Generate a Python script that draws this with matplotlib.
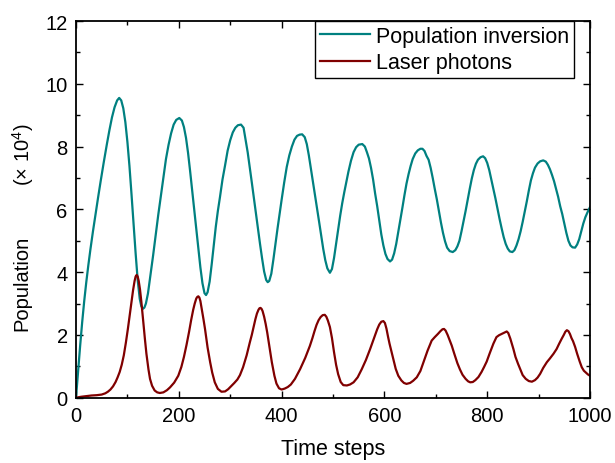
import matplotlib
matplotlib.use("Agg")
import matplotlib.pyplot as plt
from matplotlib.ticker import MultipleLocator

plt.rcParams['font.family'] = ['Liberation Sans', 'DejaVu Sans']
plt.rcParams['mathtext.fontset'] = 'custom'
plt.rcParams['mathtext.rm'] = 'Liberation Sans'
plt.rcParams['mathtext.it'] = 'Liberation Sans'

# Population inversion (x 10^4)
t_inv = [0, 4, 8, 12, 16, 20, 24, 28, 33, 38, 43, 48, 54, 60, 65, 70, 75, 80, 84, 88, 92, 96,
         100, 104, 108, 112, 116, 120, 124, 127, 130, 133, 136, 140, 145, 150, 155, 160, 165,
         170, 175, 180, 185, 190, 195, 201, 206, 210, 214, 218, 222, 226, 230, 234, 238, 242,
         246, 250, 253, 256, 260, 264, 268, 272, 276, 280, 285, 290, 295, 300, 305, 310, 315,
         321, 326, 330, 334, 338, 342, 346, 350, 354, 358, 362, 366, 370, 373, 376, 380, 384,
         388, 392, 396, 400, 405, 410, 415, 420, 425, 430, 435, 440, 445, 449, 453, 457, 461,
         465, 469, 473, 477, 481, 485, 489, 494, 498, 502, 506, 510, 514, 518, 522, 526, 530,
         535, 540, 545, 550, 557, 562, 566, 570, 574, 578, 582, 586, 590, 594, 598, 602, 606,
         611, 615, 619, 623, 627, 631, 635, 639, 643, 647, 651, 655, 660, 665, 670, 674, 678,
         682, 686, 690, 694, 698, 702, 706, 710, 714, 718, 722, 727, 733, 738, 742, 746, 750,
         754, 758, 762, 766, 770, 774, 778, 782, 787, 792, 796, 800, 804, 808, 812, 816, 820,
         824, 828, 832, 836, 840, 844, 849, 853, 857, 861, 865, 869, 873, 877, 881, 885, 889,
         893, 898, 903, 909, 914, 918, 922, 926, 930, 934, 938, 942, 946, 950, 954, 958, 962,
         966, 971, 975, 979, 983, 987, 991, 995, 1000]
inversion = [0, 0.84, 1.64, 2.4, 3.08, 3.68, 4.22, 4.72, 5.3, 5.85, 6.38, 6.9, 7.5, 8.07, 8.52, 8.93,
             9.25, 9.47, 9.55, 9.47, 9.22, 8.78, 8.15, 7.38, 6.48, 5.52, 4.6, 3.75, 3.15, 2.92, 2.83,
             2.87, 3.0, 3.32, 3.92, 4.53, 5.18, 5.82, 6.42, 7.0, 7.6, 8.05, 8.42, 8.7, 8.85, 8.91,
             8.83, 8.62, 8.28, 7.8, 7.22, 6.6, 5.98, 5.38, 4.76, 4.15, 3.65, 3.33, 3.27, 3.36, 3.7,
             4.25, 4.85, 5.45, 5.95, 6.38, 6.95, 7.4, 7.87, 8.2, 8.45, 8.6, 8.68, 8.70, 8.6, 8.2,
             7.82, 7.35, 6.86, 6.37, 5.88, 5.4, 4.9, 4.44, 4.02, 3.75, 3.68, 3.72, 3.95, 4.4, 4.9,
             5.38, 5.85, 6.3, 6.85, 7.35, 7.72, 8.0, 8.22, 8.34, 8.38, 8.39, 8.3, 8.08, 7.72, 7.3,
             6.88, 6.45, 6.03, 5.6, 5.17, 4.74, 4.38, 4.12, 3.98, 4.1, 4.45, 4.9, 5.35, 5.8, 6.2,
             6.55, 6.88, 7.2, 7.55, 7.82, 7.98, 8.06, 8.08, 8.0, 7.82, 7.62, 7.32, 6.95, 6.5, 6.1,
             5.65, 5.2, 4.85, 4.58, 4.42, 4.34, 4.4, 4.6, 4.9, 5.28, 5.68, 6.05, 6.45, 6.82, 7.12,
             7.38, 7.6, 7.78, 7.88, 7.93, 7.93, 7.86, 7.7, 7.58, 7.32, 7.0, 6.65, 6.32, 5.95, 5.58,
             5.25, 4.98, 4.78, 4.67, 4.64, 4.7, 4.82, 5.0, 5.3, 5.62, 5.95, 6.3, 6.65, 6.98, 7.25,
             7.45, 7.58, 7.66, 7.69, 7.63, 7.48, 7.25, 6.95, 6.65, 6.35, 6.02, 5.7, 5.4, 5.12, 4.9,
             4.75, 4.66, 4.64, 4.7, 4.85, 5.05, 5.3, 5.6, 5.92, 6.25, 6.6, 6.92, 7.15, 7.33, 7.46,
             7.53, 7.56, 7.52, 7.42, 7.28, 7.1, 6.9, 6.65, 6.4, 6.1, 5.85, 5.55, 5.25, 5.0, 4.85,
             4.79, 4.78, 4.88, 5.05, 5.3, 5.55, 5.75, 5.9, 6.07]

# Laser photons (x 10^4)
t_ph = [0, 10, 20, 30, 40, 50, 57, 62, 67, 72, 77, 81, 85, 89, 93, 97, 101, 105, 108, 111, 114,
        116, 118, 120, 122, 124.5, 127, 129, 131, 134, 137, 141, 144, 148, 153, 158, 163, 170,
        177, 183, 191, 199, 205, 210, 215, 220, 224, 228, 231, 234, 236, 238, 240, 242, 245,
        248, 251, 256, 261, 265, 270, 276, 283, 290, 296, 302, 308, 314, 319, 325, 332, 338,
        342, 346, 349, 352, 355, 357, 359, 361, 363, 366, 369, 372, 376, 381, 386, 390, 395,
        400, 406, 412, 418, 426, 436, 446, 455, 460, 464, 468, 472, 476, 480, 484, 487, 490,
        494, 498, 502, 506, 510, 515, 520, 527, 533, 540, 548, 556, 564, 572, 580, 586, 590,
        594, 598, 601, 604, 607, 610, 614, 618, 622, 627, 633, 638, 643, 650, 656, 663, 670,
        676, 684, 692, 698, 704, 709, 713, 716, 719, 723, 727, 731, 736, 742, 747, 752, 758,
        763, 767, 772, 777, 783, 789, 794, 799, 805, 812, 818, 823, 828, 833, 838, 841, 845,
        848, 851, 855, 860, 864, 869, 875, 881, 887, 893, 898, 903, 909, 916, 922, 929, 935,
        940, 945, 949, 952, 955, 958, 961, 964, 967, 971, 975, 980, 984, 988, 992, 996, 1000]
photons = [0.0, 0.03, 0.05, 0.07, 0.08, 0.1, 0.14, 0.19, 0.26, 0.36, 0.5, 0.65, 0.82, 1.05, 1.35,
           1.75, 2.2, 2.68, 3.05, 3.42, 3.72, 3.86, 3.91, 3.86, 3.72, 3.45, 3.08, 2.75, 2.40, 1.88,
           1.4, 0.9, 0.6, 0.38, 0.23, 0.17, 0.15, 0.17, 0.24, 0.33, 0.48, 0.70, 0.98, 1.3, 1.68,
           2.1, 2.47, 2.8, 3.0, 3.16, 3.21, 3.23, 3.19, 3.08, 2.8, 2.5, 2.19, 1.6, 1.13, 0.8, 0.49,
           0.28, 0.19, 0.2, 0.27, 0.37, 0.47, 0.58, 0.72, 0.97, 1.35, 1.75, 2.0, 2.28, 2.5, 2.68,
           2.8, 2.85, 2.86, 2.83, 2.76, 2.58, 2.35, 2.08, 1.65, 1.13, 0.7, 0.45, 0.3, 0.26, 0.29,
           0.34, 0.42, 0.6, 0.91, 1.27, 1.65, 1.9, 2.12, 2.32, 2.47, 2.57, 2.63, 2.64, 2.58, 2.46,
           2.25, 1.9, 1.45, 1.05, 0.75, 0.5, 0.4, 0.39, 0.42, 0.49, 0.65, 0.91, 1.2, 1.54, 1.9,
           2.18, 2.33, 2.42, 2.44, 2.38, 2.2, 1.95, 1.72, 1.45, 1.18, 0.92, 0.7, 0.55, 0.47, 0.44,
           0.47, 0.54, 0.65, 0.85, 1.13, 1.5, 1.82, 1.93, 2.03, 2.12, 2.18, 2.19, 2.14, 2.0, 1.83,
           1.66, 1.4, 1.1, 0.9, 0.73, 0.6, 0.52, 0.49, 0.5, 0.56, 0.66, 0.82, 0.98, 1.15, 1.42,
           1.72, 1.93, 1.99, 2.03, 2.07, 2.11, 2.06, 1.88, 1.72, 1.55, 1.3, 1.08, 0.92, 0.72, 0.6,
           0.53, 0.51, 0.56, 0.64, 0.76, 0.95, 1.13, 1.25, 1.4, 1.55, 1.72, 1.88, 2.0, 2.1, 2.15,
           2.12, 2.03, 1.9, 1.8, 1.62, 1.4, 1.15, 0.97, 0.86, 0.8, 0.74, 0.70]

labels = ["Population inversion", "Laser photons"]
colors = ["#008080", "#800000"]

fig = plt.figure(figsize=(6.15, 4.64), dpi=100)
ax = fig.add_axes([76/615, 1-398.7/464, 514/615, 376.7/464])

ax.plot(t_inv, inversion, color=colors[0], lw=1.6, label=labels[0])
ax.plot(t_ph, photons, color=colors[1], lw=1.6, label=labels[1])

ax.set_xlim(0, 1000)
ax.set_ylim(0, 12)
ax.xaxis.set_major_locator(MultipleLocator(200))
ax.xaxis.set_minor_locator(MultipleLocator(100))
ax.yaxis.set_major_locator(MultipleLocator(2))
ax.yaxis.set_minor_locator(MultipleLocator(1))
ax.tick_params(which='both', direction='in', top=True, right=True, width=1.0, labelsize=14.5)
ax.tick_params(which='major', length=5, pad=6)
ax.tick_params(which='minor', length=3)
for s in ax.spines.values():
    s.set_linewidth(1.3)

ax.set_xlabel("Time steps", fontsize=15.5, labelpad=9)
fig.text(22/615, 1-283/464, "Population", rotation=90, fontsize=14.5, ha='center', va='center')
fig.text(23/615, 1-155/464, r"($\times$ 10$^4$)", rotation=90, fontsize=14.5, ha='center', va='center')

leg = ax.legend(loc='upper right', bbox_to_anchor=(498/514, 1.0), borderaxespad=0,
                fontsize=15.5, frameon=True, fancybox=False, edgecolor='black', framealpha=1,
                borderpad=0.22, handlelength=2.33, handletextpad=0.28, labelspacing=0.25)
leg.get_frame().set_linewidth(1.0)

fig.savefig("out.png", dpi=100)
